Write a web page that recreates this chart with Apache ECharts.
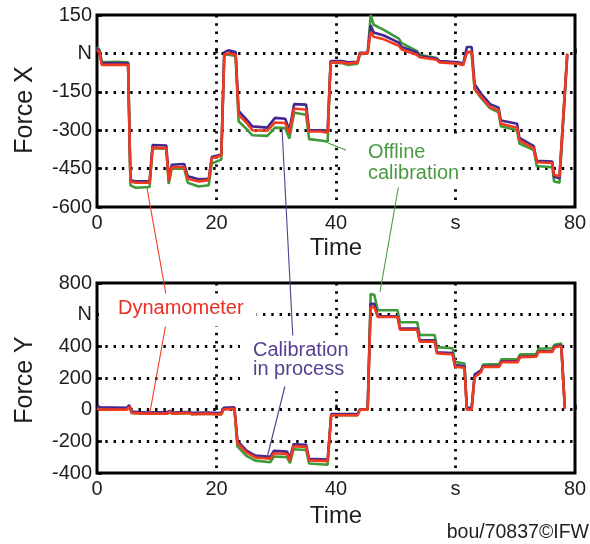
<!DOCTYPE html>
<html>
<head>
<meta charset="utf-8">
<script src="https://cdn.jsdelivr.net/npm/echarts@6/dist/echarts.min.js"></script>
<style>
html,body{margin:0;padding:0;background:#fff;}
#chart{width:590px;height:544px;}
</style>
</head>
<body>
<div id="chart"></div>
<script>
// ---- Data ----
// Force X chart
var timeX = [0, 0.4, 0.8, 3.0, 5.2, 5.6, 6.5, 8.8, 9.3, 11.6, 12.0, 12.5, 14.6, 15.2, 17.0, 18.7, 19.2, 20.8, 21.3, 22.0,
  23.2, 23.7, 25.0, 26.0, 28.5, 29.8, 31.5, 32.2, 33.0, 35.0, 35.5, 37.5, 38.6, 39.1, 41.0, 42.0, 43.6, 44.0, 45.3, 45.8,
  46.3, 48.0, 50.5, 51.0, 53.5, 54.0, 56.8, 57.3, 60.5, 61.3, 61.9, 62.7, 63.2, 64.3, 65.8, 67.2, 67.6, 70.3, 70.7, 73.1,
  73.6, 76.2, 76.5, 77.4, 78.7];
var dynoX = [15, 5, -45, -45, -45, -500, -505, -505, -368, -370, -500, -445, -445, -490, -500, -495, -410, -400, -5, 0,
  -5, -240, -270, -300, -302, -270, -272, -312, -215, -220, -305, -305, -310, -35, -35, -40, -35, 0, 0, 85,
  65, 55, 30, 15, -5, -15, -25, -35, -40, -45, 5, 5, -140, -170, -210, -222, -275, -290, -340, -370,
  -425, -428, -475, -480, 0];
var procX = [20, 10, -38, -38, -38, -495, -500, -500, -358, -360, -490, -435, -432, -480, -492, -490, -405, -395, 5, 12,
  5, -225, -258, -285, -290, -252, -255, -300, -198, -200, -300, -300, -302, -30, -30, -35, -33, 2, 2, 110,
  82, 70, 42, 25, 5, -10, -20, -30, -35, -40, 25, 25, -120, -158, -198, -212, -262, -275, -330, -362,
  -420, -422, -482, -488, -5];
var offX = [25, 15, -35, -33, -35, -515, -525, -522, -370, -372, -510, -450, -450, -505, -520, -515, -430, -415, -5, -5,
  -10, -265, -295, -320, -322, -290, -292, -332, -232, -240, -335, -340, -345, -35, -38, -45, -40, -3, 0, 150,
  112, 92, 58, 40, 10, -5, -18, -30, -40, -45, 5, 5, -140, -175, -215, -230, -285, -300, -352, -378,
  -440, -445, -500, -505, -10];

// Force Y chart
var timeY = [0, 0.6, 5.0, 5.4, 5.8, 8.0, 11.8, 12.2, 12.6, 15.4, 15.8, 18.5, 20.8, 21.2, 23.0, 23.5, 25.0, 26.5, 29.0, 29.6,
  31.8, 32.3, 32.9, 35.0, 35.5, 38.6, 39.2, 43.6, 44.0, 45.3, 45.8, 46.4, 47.0, 50.3, 50.7, 53.6, 54.0, 56.5, 56.9, 59.5,
  59.9, 61.5, 61.9, 62.7, 63.2, 64.3, 64.6, 67.3, 67.7, 70.4, 70.8, 73.5, 73.9, 76.2, 76.6, 77.7, 78.3];
var dynoY = [5, 0, 0, 18, -20, -25, -25, -12, -25, -20, -28, -25, -30, 2, 5, -210, -270, -302, -310, -275,
  -280, -320, -230, -235, -320, -325, -35, -35, 0, 0, 645, 648, 585, 585, 505, 505, 430, 430, 355, 350,
  272, 265, 0, 0, 205, 238, 270, 270, 300, 300, 332, 335, 365, 365, 395, 400, 5];
var procY = [20, 15, 12, 28, -12, -18, -15, -8, -18, -15, -20, -18, -22, 12, 15, -198, -258, -290, -298, -260,
  -265, -305, -218, -222, -310, -315, -28, -28, 2, 2, 668, 668, 592, 590, 512, 512, 438, 438, 362, 358,
  282, 275, 12, 12, 222, 250, 275, 275, 305, 305, 335, 338, 368, 370, 400, 405, 15];
var offY = [12, 5, 5, 22, -20, -25, -25, -14, -25, -22, -28, -25, -30, 6, 6, -232, -292, -322, -332, -296,
  -300, -338, -250, -255, -340, -348, -35, -35, 0, 0, 730, 725, 628, 628, 552, 552, 472, 472, 395, 388,
  302, 292, 5, 5, 215, 248, 285, 288, 318, 320, 350, 352, 385, 388, 410, 418, 10];

// Tick labels
var xTickVals = [0, 20, 40, 60, 80];
var xTickLabels = ['0', '20', '40', 's', '80'];
var yTickValsX = [-600, -450, -300, -150, 0, 150];
var yTickLabelsX = ['-600', '-450', '-300', '-150', 'N', '150'];
var yTickValsY = [-400, -200, 0, 200, 400, 600, 800];
var yTickLabelsY = ['-400', '-200', '0', '200', '400', 'N', '800'];

var seriesNames = ['Offline calibration', 'Calibration in process', 'Dynamometer'];
var colors = { off: '#3f9a3a', proc: '#43288f', dyno: '#f23a1e' };

function pairs(t, v) { var o = []; for (var i = 0; i < t.length; i++) o.push([t[i], v[i]]); return o; }
function fmt(vals, labels) { return function (v) { var i = vals.indexOf(v); return i < 0 ? '' : labels[i]; }; }

var FONT = "'Liberation Sans', Arial, sans-serif";
var chart = echarts.init(document.getElementById('chart'), null, { renderer: 'canvas' });

var gridDots = { color: '#000', width: 2.8, type: [2.4, 5.9] };
function xAxis(gi) {
  return {
    type: 'value', gridIndex: gi, min: 0, max: 80, interval: 20,
    axisLine: { show: false },
    axisTick: { show: true, inside: true, length: 5, lineStyle: { color: '#000', width: 2.5 } },
    axisLabel: { formatter: fmt(xTickVals, xTickLabels), fontSize: 20, color: '#1e1e1e', fontFamily: FONT, margin: 6 },
    splitLine: { show: true, showMinLine: false, showMaxLine: false, lineStyle: gridDots }
  };
}
function yAxis(gi, mn, mx, itv, vals, labels) {
  return {
    type: 'value', gridIndex: gi, min: mn, max: mx, interval: itv,
    axisLine: { show: false },
    axisTick: { show: true, inside: true, length: 5, lineStyle: { color: '#000', width: 2.5 } },
    axisLabel: { formatter: fmt(vals, labels), fontSize: 20, color: '#1e1e1e', fontFamily: FONT, margin: 5 },
    splitLine: { show: true, showMinLine: false, showMaxLine: false, lineStyle: gridDots }
  };
}
function line(name, gi, t, v, color) {
  return {
    name: name, type: 'line', xAxisIndex: gi, yAxisIndex: gi, data: pairs(t, v),
    showSymbol: false, symbol: 'none', lineStyle: { color: color, width: 2.6 }, itemStyle: { color: color },
    clip: true, z: 3
  };
}

var textBase = { fontFamily: FONT, fontSize: 20, align: 'left', verticalAlign: 'top', backgroundColor: '#fff' };
function txt(x, y, text, color, lh, pad) {
  return { type: 'text', z: 110, style: Object.assign({}, textBase, { x: x, y: y, text: text, fill: color, lineHeight: lh, padding: pad }) };
}
function lead(x1, y1, x2, y2, color) {
  return { type: 'line', z: 105, shape: { x1: x1, y1: y1, x2: x2, y2: y2 }, style: { stroke: color, lineWidth: 1.1 } };
}

chart.setOption({
  animation: false,
  backgroundColor: '#fff',
  grid: [
    { left: 97, top: 15, width: 478, height: 192, show: true, borderColor: '#000', borderWidth: 3, backgroundColor: 'transparent' },
    { left: 97, top: 283, width: 478, height: 190, show: true, borderColor: '#000', borderWidth: 3, backgroundColor: 'transparent' }
  ],
  xAxis: [xAxis(0), xAxis(1)],
  yAxis: [
    yAxis(0, -600, 150, 150, yTickValsX, yTickLabelsX),
    yAxis(1, -400, 800, 200, yTickValsY, yTickLabelsY)
  ],
  series: [
    line(seriesNames[0], 0, timeX, offX, colors.off),
    line(seriesNames[1], 0, timeX, procX, colors.proc),
    line(seriesNames[2], 0, timeX, dynoX, colors.dyno),
    line(seriesNames[0], 1, timeY, offY, colors.off),
    line(seriesNames[1], 1, timeY, procY, colors.proc),
    line(seriesNames[2], 1, timeY, dynoY, colors.dyno)
  ],
  graphic: [
    // axis titles
    { type: 'text', z: 110, x: 25, y: 110, rotation: Math.PI / 2,
      style: { text: 'Force X', fontFamily: FONT, fontSize: 25, fill: '#1e1e1e', align: 'center', verticalAlign: 'middle' } },
    { type: 'text', z: 110, x: 25, y: 380, rotation: Math.PI / 2,
      style: { text: 'Force Y', fontFamily: FONT, fontSize: 25, fill: '#1e1e1e', align: 'center', verticalAlign: 'middle' } },
    { type: 'text', z: 110, style: { x: 336, y: 248, text: 'Time', fontFamily: FONT, fontSize: 24, fill: '#1e1e1e', align: 'center', verticalAlign: 'middle' } },
    { type: 'text', z: 110, style: { x: 336, y: 516, text: 'Time', fontFamily: FONT, fontSize: 24, fill: '#1e1e1e', align: 'center', verticalAlign: 'middle' } },
    { type: 'text', z: 110, style: { x: 589, y: 533, text: 'bou/70837\u00A9IFW', fontFamily: FONT, fontSize: 19.5, fill: '#1e1e1e', align: 'right', verticalAlign: 'middle' } },
    // leader lines
    lead(147, 188, 167, 300, colors.dyno),
    lead(167, 318, 150, 412, colors.dyno),
    lead(282, 128, 293, 340, '#55408f'),
    lead(287, 378, 267, 458, '#55408f'),
    lead(328, 143, 366, 158, '#4a9a45'),
    lead(400, 178, 380, 292, '#4a9a45'),
    // annotation texts
    txt(99, 293.5, 'Dynamometer', '#ea2e24', 20, [5, 13, 8, 19]),
    txt(240, 335.5, 'Calibration\nin process', '#55408f', 19, [5, 10, 8, 13]),
    txt(346, 137.5, 'Offline\ncalibration', '#4a9a45', 21, [4, 3, 4, 22])
  ]
});
</script>
</body>
</html>
